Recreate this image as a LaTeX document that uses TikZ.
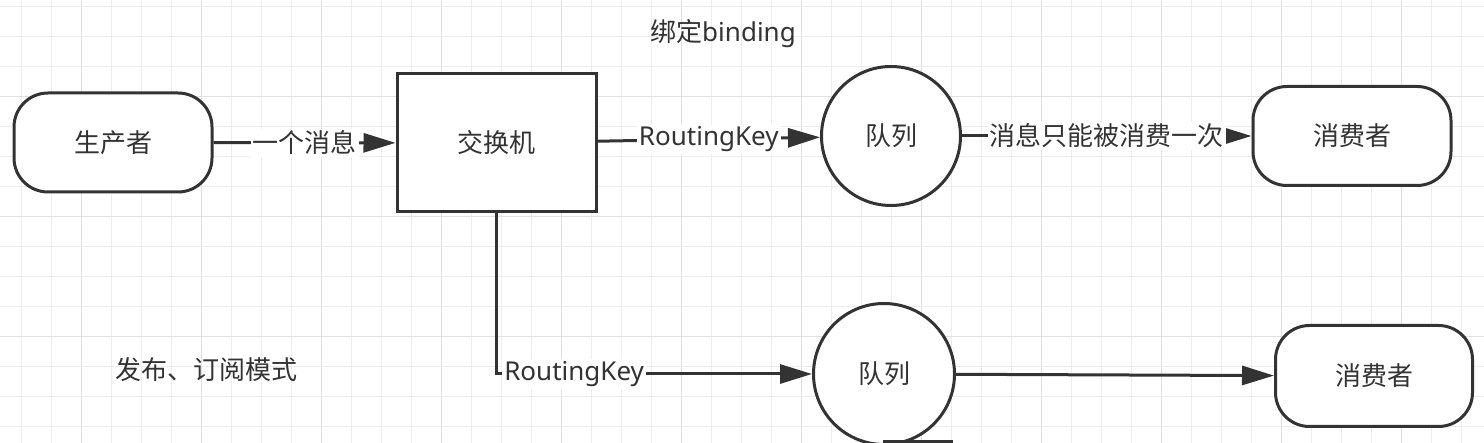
\documentclass[tikz,border=0pt]{standalone}
\usepackage{fontspec}
\setmainfont{Noto Sans}
\newfontfamily\cjk{Noto Sans CJK SC}
\usetikzlibrary{arrows.meta}
\definecolor{ink}{HTML}{333333}
\definecolor{gridminor}{HTML}{EDEDED}
\definecolor{gridmajor}{HTML}{E0E0E0}
\begin{document}
\begin{tikzpicture}[x=1pt,y=-1pt,
  every node/.style={font=\fontsize{26}{31}\selectfont, text=ink},
  shp/.style={draw=ink, line width=3pt, fill=white, inner sep=0pt},
  term/.style={shp, rectangle, rounded corners=34pt, minimum width=198pt, minimum height=99pt},
  boxshape/.style={shp, rectangle, minimum width=199pt, minimum height=138pt},
  que/.style={shp, circle, minimum size=#1},
  conn/.style={draw=ink, line width=3pt, -{Triangle[length=32pt,width=19pt]}},
  lbl/.style={fill=white, inner sep=2pt}
]
\useasboundingbox (0,0) rectangle (1484,443);
\fill[white] (0,0) rectangle (1484,443);
\begin{scope}
\clip (0,0) rectangle (1484,443);
\foreach \i in {0,...,48} {
  \pgfmathtruncatemacro\m{mod(\i,4)}
  \ifnum\m=2 \def\gc{gridmajor}\else\def\gc{gridminor}\fi
  \draw[\gc, line width=1.2pt] (21.7+30*\i,0) -- (21.7+30*\i,443);
}
\foreach \j in {0,...,14} {
  \pgfmathtruncatemacro\m{mod(\j,4)}
  \ifnum\m=3 \def\gc{gridmajor}\else\def\gc{gridminor}\fi
  \draw[\gc, line width=1.2pt] (0,6.7+30*\j) -- (1484,6.7+30*\j);
}
\end{scope}

\node[term] (prod) at (113,142.5) {\cjk 生产者};
\node[boxshape] (ex) at (496.5,143) {\cjk 交换机};
\node[que=139pt] (q1) at (891,136) {\cjk 队列};
\node[term] (c1) at (1352,136) {\cjk 消费者};
\node[que=141pt] (q2) at (884,374) {\cjk 队列};
\node[term, minimum width=197pt, minimum height=101pt] (c2) at (1374,376) {\cjk 消费者};

\draw[conn] (prod) -- node[lbl]{\cjk 一个消息} (ex);
\draw[conn] (ex) -- node[lbl]{RoutingKey} (q1);
\draw[conn] (q1) -- node[lbl]{\cjk 消息只能被消费一次} (c1);
\draw[conn] (ex.south) |- node[lbl, pos=0.623]{RoutingKey} (q2.west);
\draw[conn] (q2) -- (c2);

\node (bind) at (723,34) {{\cjk 绑定}binding};
\node (mode) at (206,370) {\cjk 发布、订阅模式};

\draw[ink, line width=3pt] (883,442) -- (953,442);
\end{tikzpicture}
\end{document}
